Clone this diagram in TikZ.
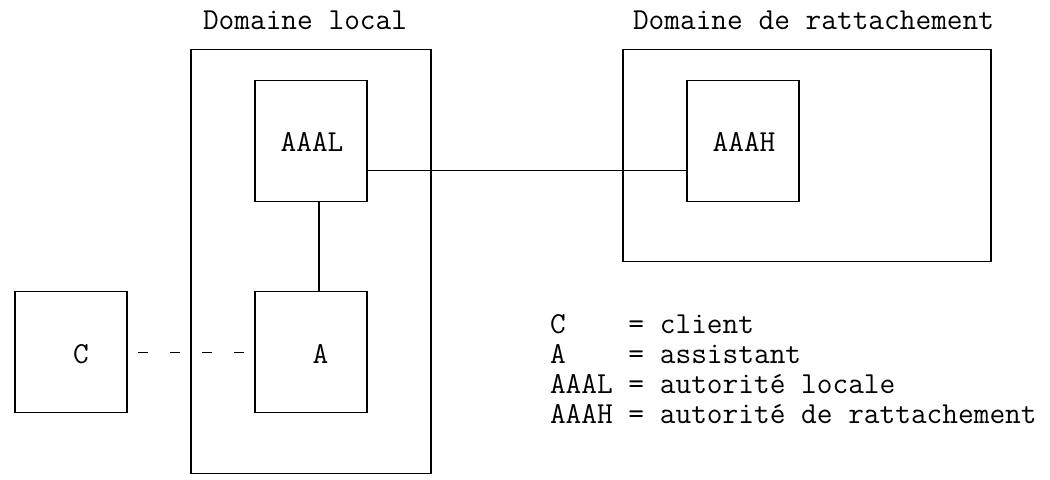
\documentclass[tikz,border=0pt]{standalone}
\usepackage{fontspec}
\begin{document}
\begin{tikzpicture}[x=0.5pt,y=-0.5pt,
  box/.style={draw, rectangle, line width=0.55pt, inner sep=0pt, outer sep=0pt},
  txt/.style={font=\ttfamily\fontsize{15.24pt}{16pt}\selectfont, inner sep=0pt, outer sep=0pt},
  link/.style={line width=0.55pt},
  dashlink/.style={line width=0.55pt, dash pattern=on 5pt off 11pt, dash phase=10.5pt}]
\useasboundingbox (0,0) rectangle (1050,480);
% boxes
\node[box, minimum width=120pt, minimum height=211.75pt] (local) at (311,261.7) {};
\node[box, minimum width=56pt, minimum height=60.5pt] (aaal) at (311,140.7) {};
\node[box, minimum width=56pt, minimum height=60.5pt] (a) at (311,352.45) {};
\node[box, minimum width=56pt, minimum height=60.5pt] (c) at (71,352.45) {};
\node[box, minimum width=184pt, minimum height=105.875pt] (home) at (807,155.8) {};
\node[box, minimum width=56pt, minimum height=60.5pt] (aaah) at (743,140.7) {};
% helper coordinates
\coordinate (r5) at (0,170.95);
\coordinate (c19) at (319,0);
% connectors
\draw[link] (aaal.east |- r5) -- (aaah.west |- r5);
\draw[link] (aaal.south -| c19) -- (a.north -| c19);
\draw[dashlink] (c.east) -- (a.west);
% labels
\node[txt, anchor=base west] (tlocal) at (203,29.5) {Domaine local};
\node[txt, anchor=base west] (thome) at (633,29.5) {Domaine de rattachement};
\node[txt, anchor=base] (laaal) at (312,151.7) {AAAL};
\node[txt, anchor=base] (laaah) at (744,151.7) {AAAH};
\node[txt, anchor=base] (lc) at (81,363.5) {C};
\node[txt, anchor=base] (la) at (320.5,363.5) {A};
% legend
\node[txt, anchor=base west] (leg1) at (550,333.2) {C\ \ \ \ = client};
\node[txt, anchor=base west] (leg2) at (550,363.5) {A\ \ \ \ = assistant};
\node[txt, anchor=base west] (leg3) at (550,393.7) {AAAL = autorité locale};
\node[txt, anchor=base west] (leg4) at (550,424) {AAAH = autorité de rattachement};
\end{tikzpicture}
\end{document}
